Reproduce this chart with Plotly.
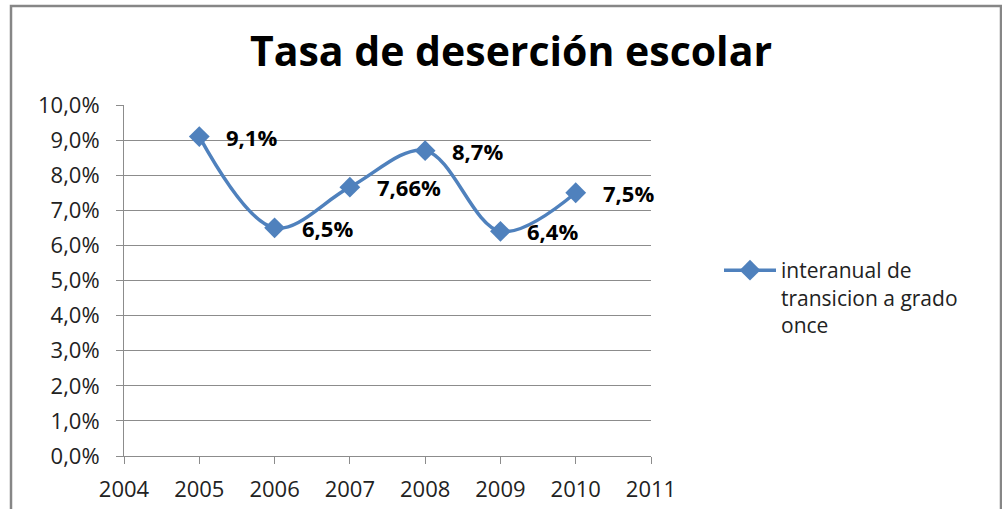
import plotly.graph_objects as go

# Dropout rate series (percent)
years = [2005, 2006, 2007, 2008, 2009, 2010]
rates = [9.1, 6.5, 7.66, 8.7, 6.4, 7.5]
labels = ["9,1%", "6,5%", "7,66%", "8,7%", "6,4%", "7,5%"]
series_name = "interanual de<br>transicion a grado<br>once"

y_ticks = [i for i in range(0, 11)]
y_tick_text = [f"{v},0%" for v in y_ticks]
x_ticks = list(range(2004, 2012))

BLUE = "#4F81BD"
GRID = "#8C8C8C"
FONT = "'Open Sans', sans-serif"

fig = go.Figure()
fig.add_trace(go.Scatter(
    x=years, y=rates, name=series_name,
    mode="lines+markers",
    line=dict(color=BLUE, width=3.5, shape="spline", smoothing=1.0),
    marker=dict(symbol="diamond", size=16, color=BLUE),
))

# value labels to the right of each point
for x, y, t in zip(years, rates, labels):
    fig.add_annotation(x=x, y=y, text=f"<b>{t}</b>", showarrow=False,
                       xanchor="left", yanchor="middle", xshift=25, yshift=0,
                       font=dict(family=FONT, size=22, color="#000000"))

# outer chart frame
fig.add_shape(type="rect", xref="paper", yref="paper",
              x0=-113 / 527, x1=877 / 527, y0=-60 / 351, y1=(456 - 6) / 351,
              line=dict(color="#868686", width=2.5), layer="above")

fig.update_layout(
    width=1002, height=509,
    margin=dict(l=124, r=351, t=105, b=53, autoexpand=False),
    paper_bgcolor="white", plot_bgcolor="white",
    title=dict(text="<b>Tasa de deserción escolar</b>", x=(511 - 124) / 527, xref="paper",
               xanchor="center", y=1 - 52 / 509, yanchor="middle",
               font=dict(family=FONT, size=41, color="#000000")),
    font=dict(family=FONT, size=21, color="#222222"),
    showlegend=True,
    legend=dict(x=1 + 68 / 527, y=1 - (250 - 105) / 351, xanchor="left", yanchor="top",
                valign="top", itemwidth=52, bgcolor="rgba(0,0,0,0)",
                font=dict(family=FONT, size=21, color="#222222"), tracegroupgap=0),
    xaxis=dict(range=[2004, 2011], tickmode="array", tickvals=x_ticks, automargin=False,
               showgrid=False, showline=True, linecolor=GRID, linewidth=1,
               ticks="outside", ticklen=7, tickcolor=GRID, zeroline=False,
               ticklabelstandoff=7, tickfont=dict(size=22)),
    yaxis=dict(range=[0, 10], tickmode="array", tickvals=y_ticks, ticktext=y_tick_text,
               automargin=False,
               showgrid=True, gridcolor=GRID, gridwidth=1,
               showline=True, linecolor=GRID, linewidth=1,
               ticks="outside", ticklen=7, tickcolor=GRID, zeroline=False,
               ticklabelstandoff=12, tickfont=dict(size=22)),
)

fig.write_html("out.html")
